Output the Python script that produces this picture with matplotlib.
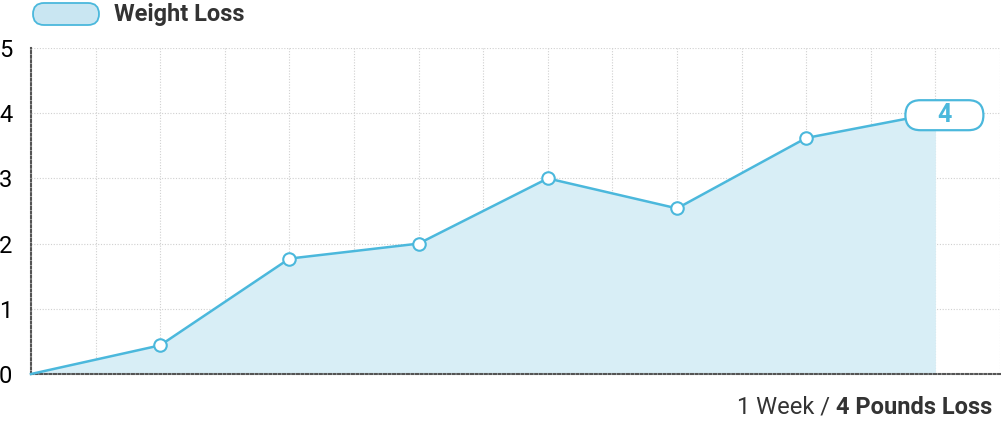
import matplotlib
matplotlib.use('Agg')
import matplotlib.pyplot as plt
from matplotlib.patches import FancyBboxPatch
from matplotlib.transforms import IdentityTransform

plt.rcParams['font.family'] = ['Roboto', 'DejaVu Sans']

# data
weeks = [0, 1, 2, 3, 4, 5, 6, 7]
loss = [0, 0.44, 1.77, 2.0, 3.0, 2.54, 3.62, 4.0]
y_ticks = [0, 1, 2, 3, 4, 5]
series_name = 'Weight Loss'
last_label = '4'

line_col = '#4bb8dc'
fill_col = '#d8eef6'

fig = plt.figure(figsize=(10.01, 4.21), dpi=100)
ax = fig.add_axes([31 / 1001, 1 - 374 / 421, 969 / 1001, 326 / 421])

ax.set_xlim(0, 7.5)
ax.set_ylim(0, 5)

# grid
for gx in [i * 0.5 for i in range(1, 16)]:
    ax.axvline(gx, color='#d0d0d0', lw=0.8, ls=(0, (1, 1.5)), zorder=0)
for gy in y_ticks[1:]:
    ax.axhline(gy, color='#d0d0d0', lw=0.8, ls=(0, (1, 1.5)), zorder=0)

ax.fill_between(weeks, loss, 0, color=fill_col, lw=0, zorder=1)
ax.plot(weeks, loss, color=line_col, lw=1.8, zorder=3, clip_on=False)
ax.plot(weeks[1:-1], loss[1:-1], ls='none', marker='o', ms=9,
        mfc='white', mec=line_col, mew=1.5, zorder=4)

# end label box (pixel coords)
px, py = ax.transData.transform((weeks[-1], loss[-1]))
bw, bh = 78, 30
cx = px + 9
cy = py - 2
box = FancyBboxPatch((cx - bw / 2, cy - bh / 2), bw, bh,
                     boxstyle='round,pad=0,rounding_size=15',
                     transform=IdentityTransform(), fc='white', ec=line_col,
                     lw=1.6, zorder=5, clip_on=False)
ax.add_artist(box)
ax.text(cx, cy, last_label, transform=IdentityTransform(), ha='center',
        va='center', fontsize=18, fontweight='bold', color=line_col, zorder=6)

for s in ['top', 'right']:
    ax.spines[s].set_visible(False)
for s in ['left', 'bottom']:
    ax.spines[s].set_linestyle((0, (1, 1.2)))
    ax.spines[s].set_color('#555555')
    ax.spines[s].set_linewidth(1.5)

ax.set_yticks(y_ticks)
ax.set_yticklabels([str(v) for v in y_ticks], fontsize=17)
ax.tick_params(axis='y', length=0, pad=23)
ax.set_xticks([])
for lab in ax.get_yticklabels():
    lab.set_ha('left')

# legend
leg = FancyBboxPatch((33, 421 - 25), 66, 22,
                     boxstyle='round,pad=0,rounding_size=11',
                     transform=IdentityTransform(), fc='#c9e6f2', ec=line_col, lw=1.3)
fig.patches.append(leg)
fig.text(114 / 1001, 1 - 15 / 421, series_name, fontsize=17, fontweight='bold',
         color='#333333', va='center', ha='left')

# footer
t1 = fig.text(992 / 1001, 1 - 407 / 421, '1 Week / ', fontsize=17, color='#333333',
              ha='right', va='center')
t = fig.text(992 / 1001, 1 - 407 / 421, '4 Pounds Loss', fontsize=17,
             fontweight='bold', color='#333333', ha='right', va='center')

fig.canvas.draw()
r = fig.canvas.get_renderer()
bb = t.get_window_extent(r)
t1.set_x(bb.x0 / fig.bbox.width)

fig.savefig('out.png', dpi=100)
